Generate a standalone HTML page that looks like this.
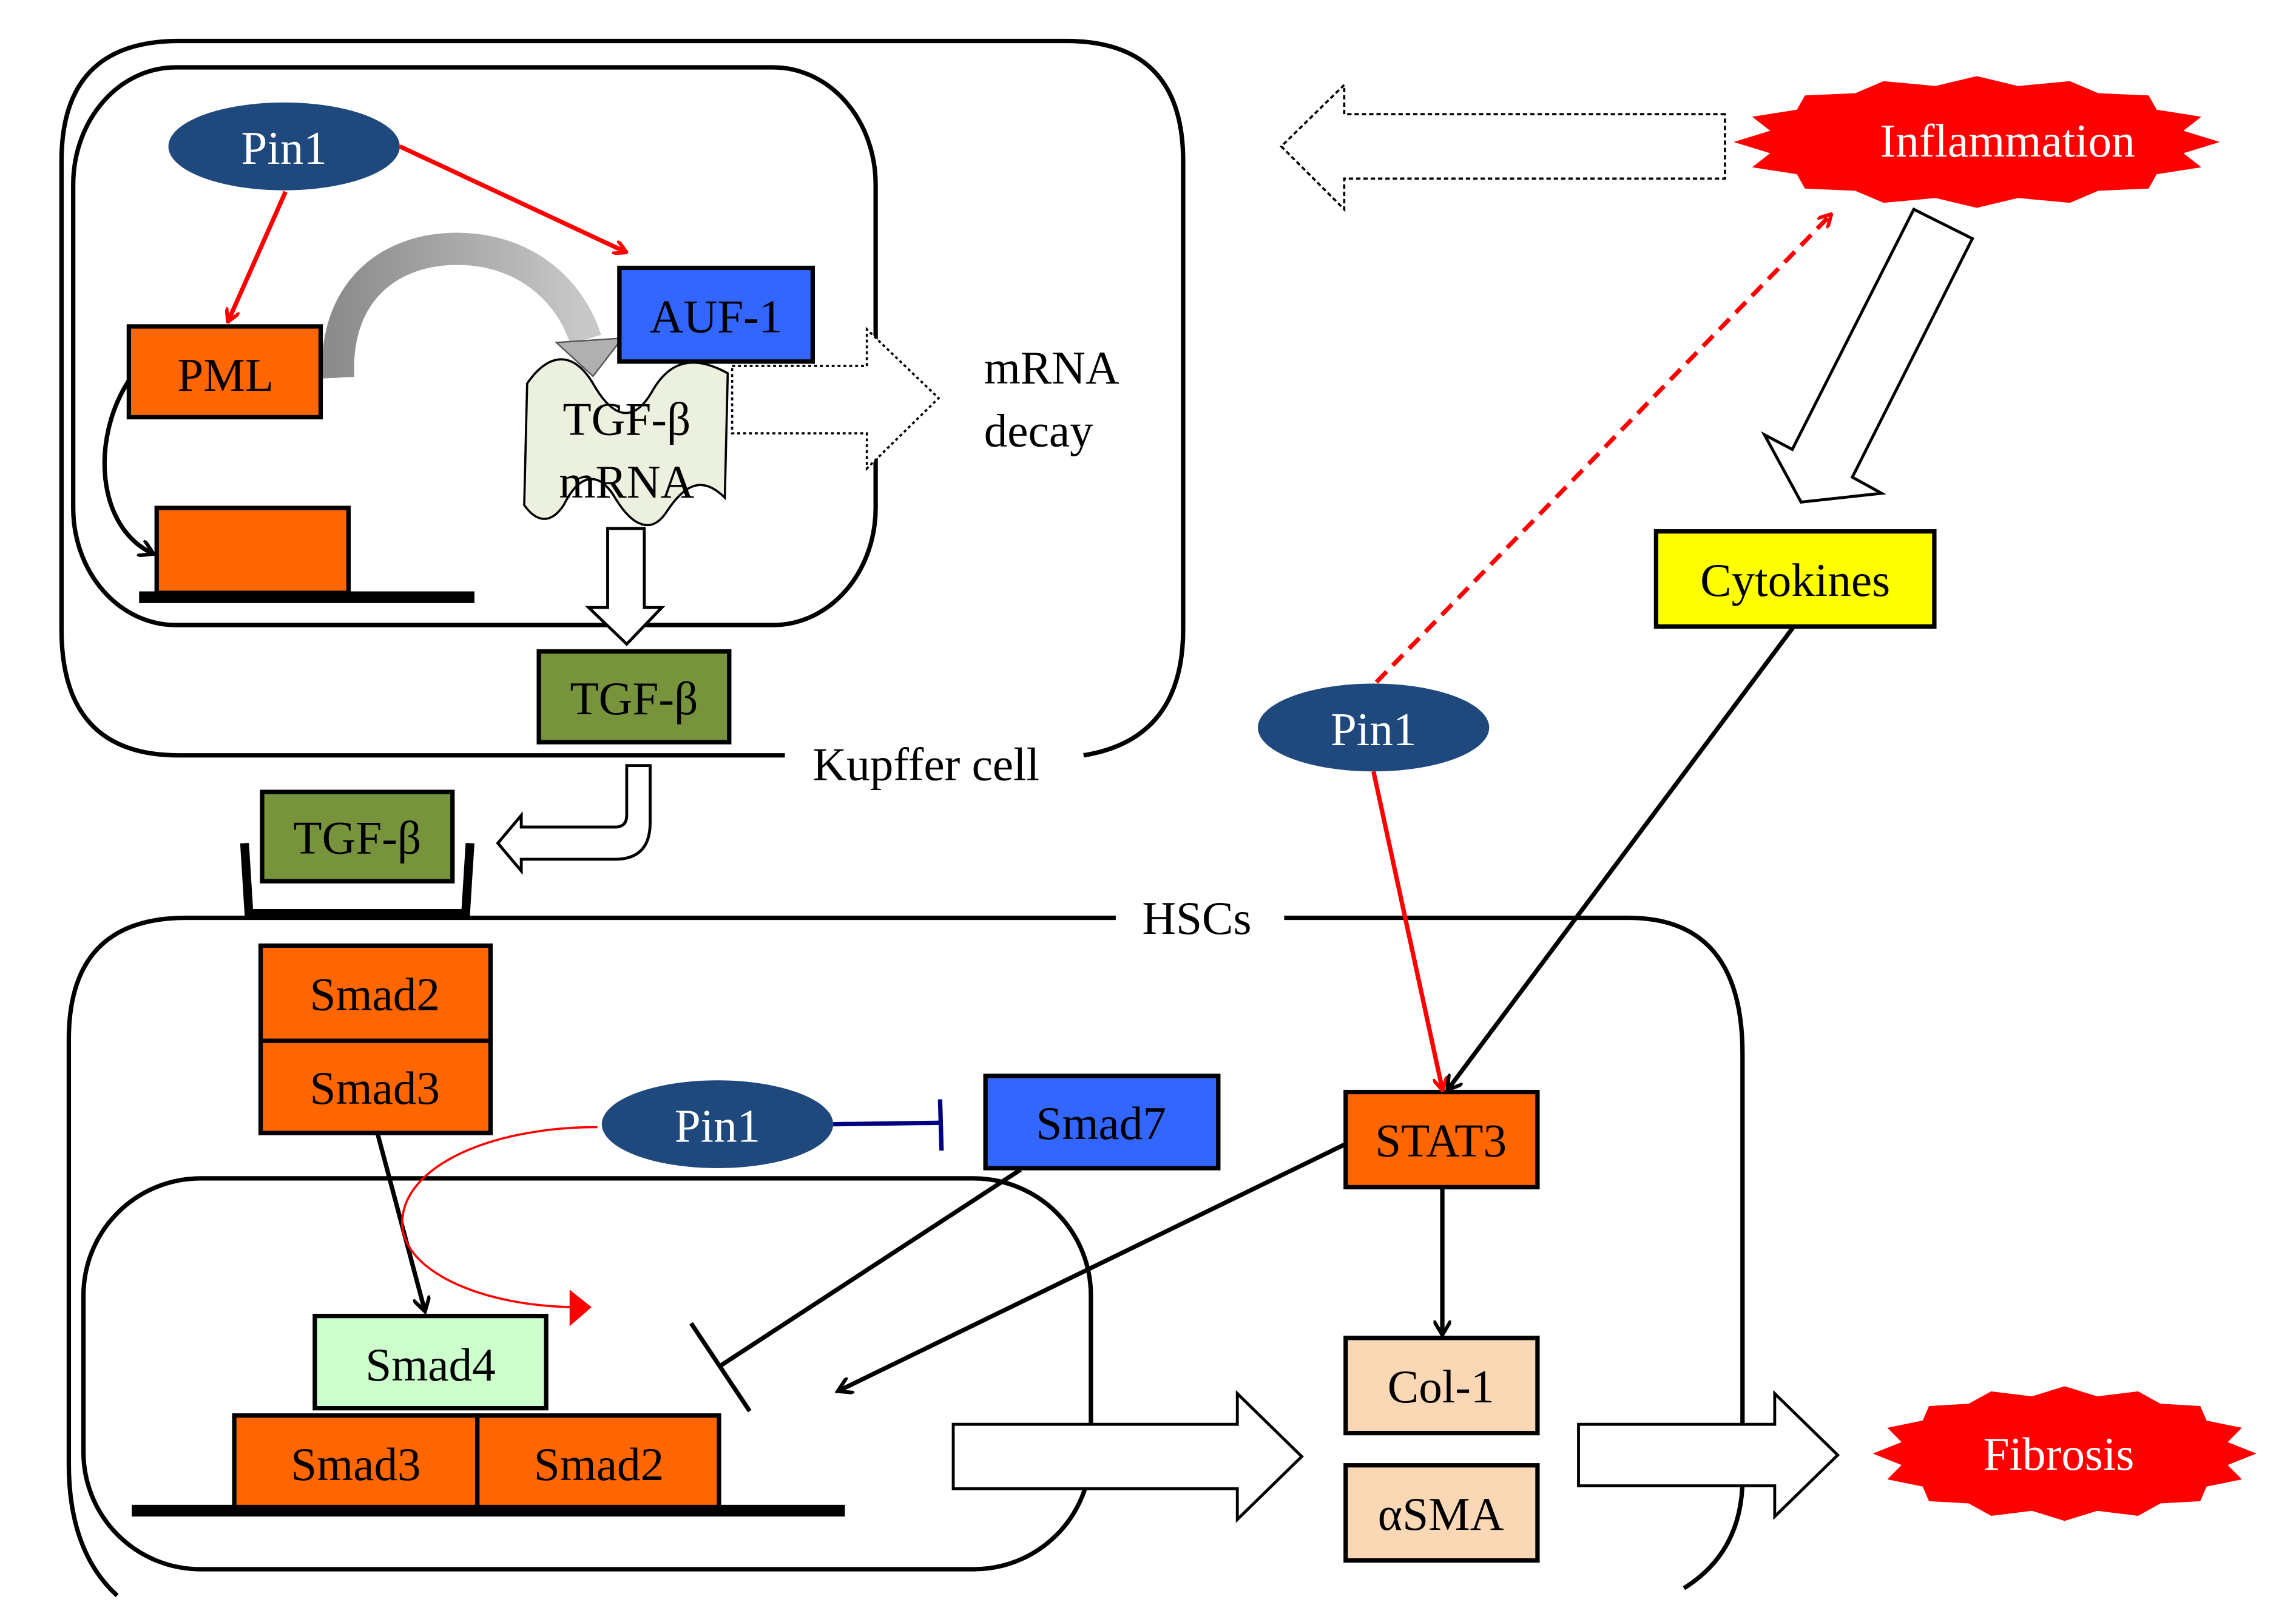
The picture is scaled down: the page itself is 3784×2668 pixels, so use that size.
<!DOCTYPE html>
<html><head><meta charset="utf-8"><style>
html,body{margin:0;padding:0;background:#fff;}
svg{display:block;}
</style></head><body>
<svg width="3784" height="2668" viewBox="0 0 1568 1106" preserveAspectRatio="none" xmlns="http://www.w3.org/2000/svg" font-family="'Liberation Serif', 'DejaVu Serif', serif">
<defs>
<marker id="ar" markerWidth="10" markerHeight="10" refX="8" refY="5" orient="auto" markerUnits="userSpaceOnUse"><path d="M0,0 L9,5 L0,10" fill="none" stroke="red" stroke-width="2.5"/></marker>
<marker id="ak" markerWidth="12" markerHeight="12" refX="9" refY="6" orient="auto" markerUnits="userSpaceOnUse"><path d="M0,0 L10,6 L0,12" fill="none" stroke="#000" stroke-width="2.5"/></marker>
<polygon id="star" points="1,0 0.85,0.17 0.924,0.383 0.74,0.49 0.707,0.707 0.5,0.74 0.383,0.924 0.17,0.85 0,1 -0.17,0.85 -0.383,0.924 -0.5,0.74 -0.707,0.707 -0.74,0.49 -0.924,0.383 -0.85,0.17 -1,0 -0.85,-0.17 -0.924,-0.383 -0.74,-0.49 -0.707,-0.707 -0.5,-0.74 -0.383,-0.924 -0.17,-0.85 0,-1 0.17,-0.85 0.383,-0.924 0.5,-0.74 0.707,-0.707 0.74,-0.49 0.924,-0.383 0.85,-0.17"/>
<linearGradient id="gg" x1="0" y1="0" x2="1" y2="0"><stop offset="0" stop-color="#8c8c8c"/><stop offset="1" stop-color="#c8c8c8"/></linearGradient>
</defs>

<path d="M536,516 L122,516 Q42,516 42,430 L42,110 Q42,28 122,28 L728,28 Q808,28 808,110 L808,430 Q808,505 740,516" fill="none" stroke="#000" stroke-width="3"/>
<text x="555" y="533" font-size="32">Kupffer cell</text>
<rect x="50" y="46" width="548" height="381" rx="70" ry="80" fill="none" stroke="#000" stroke-width="3"/>

<ellipse cx="194" cy="100" rx="79" ry="30" fill="#1f497d"/>
<text x="194" y="112" font-size="32" fill="#fff" text-anchor="middle">Pin1</text>
<line x1="195" y1="131" x2="156" y2="219" stroke="red" stroke-width="3" marker-end="url(#ar)"/>
<line x1="273" y1="100" x2="427" y2="172" stroke="red" stroke-width="3" marker-end="url(#ar)"/>

<path d="M231,258 C228,200 265,170 312,170 C360,170 390,200 400,232" fill="none" stroke="url(#gg)" stroke-width="22"/>
<polygon points="380,234 425,231 405,257" fill="#b0b0b0" stroke="#555" stroke-width="1"/>

<rect x="88" y="223" width="131" height="62" fill="#ff6600" stroke="#000" stroke-width="3"/>
<text x="154" y="267" font-size="32" text-anchor="middle">PML</text>

<path d="M88,260 C62,300 66,360 104,378" fill="none" stroke="#000" stroke-width="3" marker-end="url(#ak)"/>
<rect x="107" y="347" width="131" height="58" fill="#ff6600" stroke="#000" stroke-width="3"/>
<rect x="95" y="404" width="229" height="8" fill="#000"/>

<polygon points="500,250 592,250 592,225 641,272 592,320 592,296 500,296" fill="#fff" stroke="#000" stroke-width="1.5" stroke-dasharray="2,2"/>
<text x="672" y="262" font-size="32">mRNA</text>
<text x="672" y="305" font-size="32">decay</text>

<rect x="423" y="183" width="132" height="64" fill="#3366ff" stroke="#000" stroke-width="3"/>
<text x="489" y="227" font-size="32" text-anchor="middle">AUF-1</text>

<path d="M360,262 C375,240 392,240 405,262 C418,285 432,290 445,268 C455,250 470,240 497,255 L495,340 C480,325 468,330 455,350 C445,365 432,360 420,340 C408,320 395,325 385,345 C375,360 365,355 358,345 Z" fill="#ebf1de" stroke="#000" stroke-width="1.5"/>
<text x="428" y="297" font-size="32" text-anchor="middle">TGF-β</text>
<text x="428" y="340" font-size="32" text-anchor="middle">mRNA</text>

<polygon points="415,361 440,361 440,415 452,415 428,440 402,415 415,415" fill="#fff" stroke="#000" stroke-width="2"/>

<rect x="368" y="445" width="130" height="62" fill="#77933c" stroke="#000" stroke-width="3"/>
<text x="433" y="488" font-size="32" text-anchor="middle">TGF-β</text>

<path d="M428,523 L444,523 L444,562 Q444,587 420,587 L356,587 L356,595 L340,576 L356,557 L356,565 L420,565 Q428,565 428,557 Z" fill="#fff" stroke="#000" stroke-width="2"/>

<rect x="179" y="541" width="130" height="61" fill="#77933c" stroke="#000" stroke-width="3"/>
<text x="244" y="583" font-size="32" text-anchor="middle">TGF-β</text>
<path d="M167,576 L170,624 L318,624 L321,576" fill="none" stroke="#000" stroke-width="6"/>

<path d="M762,627 L127,627 Q47,627 47,710 L47,1000 Q47,1060 80,1090" fill="none" stroke="#000" stroke-width="3"/>
<path d="M877,627 L1112,627 Q1190,627 1190,720 L1190,1010 Q1190,1060 1150,1085" fill="none" stroke="#000" stroke-width="3"/>
<text x="780" y="638" font-size="32">HSCs</text>

<rect x="57" y="805" width="688" height="267" rx="80" ry="80" fill="none" stroke="#000" stroke-width="3"/>

<rect x="178" y="646" width="157" height="65" fill="#ff6600" stroke="#000" stroke-width="3"/>
<text x="256" y="690" font-size="32" text-anchor="middle">Smad2</text>
<rect x="178" y="711" width="157" height="63" fill="#ff6600" stroke="#000" stroke-width="3"/>
<text x="256" y="754" font-size="32" text-anchor="middle">Smad3</text>

<line x1="258" y1="775" x2="290" y2="895" stroke="#000" stroke-width="3" marker-end="url(#ak)"/>
<path d="M408,770 C330,770 270,800 275,840 C280,870 330,892 392,893" fill="none" stroke="red" stroke-width="1.5"/>
<polygon points="389,881 404,893 389,906" fill="red"/>

<ellipse cx="490" cy="768" rx="79" ry="30" fill="#1f497d"/>
<text x="490" y="780" font-size="32" fill="#fff" text-anchor="middle">Pin1</text>
<line x1="569" y1="768" x2="642" y2="767" stroke="#000080" stroke-width="3"/>
<line x1="642" y1="751" x2="643" y2="786" stroke="#000080" stroke-width="3"/>

<rect x="673" y="735" width="159" height="63" fill="#3366ff" stroke="#000" stroke-width="3"/>
<text x="752" y="778" font-size="32" text-anchor="middle">Smad7</text>

<line x1="697" y1="799" x2="492" y2="933" stroke="#000" stroke-width="3"/>
<line x1="472" y1="904" x2="512" y2="964" stroke="#000" stroke-width="3"/>
<line x1="918" y1="782" x2="573" y2="950" stroke="#000" stroke-width="3" marker-end="url(#ak)"/>

<rect x="215" y="899" width="158" height="63" fill="#ccffcc" stroke="#000" stroke-width="3"/>
<text x="294" y="943" font-size="32" text-anchor="middle">Smad4</text>
<rect x="160" y="967" width="166" height="63" fill="#ff6600" stroke="#000" stroke-width="3"/>
<text x="243" y="1011" font-size="32" text-anchor="middle">Smad3</text>
<rect x="326" y="967" width="165" height="63" fill="#ff6600" stroke="#000" stroke-width="3"/>
<text x="409" y="1011" font-size="32" text-anchor="middle">Smad2</text>
<rect x="90" y="1028" width="487" height="8" fill="#000"/>

<polygon points="651,973 845,973 845,952 889,995 845,1038 845,1017 651,1017" fill="#fff" stroke="#000" stroke-width="2"/>
<polygon points="1078,973 1212,973 1212,952 1255,994 1212,1036 1212,1015 1078,1015" fill="#fff" stroke="#000" stroke-width="2"/>

<rect x="919" y="746" width="131" height="65" fill="#ff6600" stroke="#000" stroke-width="3"/>
<text x="984" y="790" font-size="32" text-anchor="middle">STAT3</text>
<line x1="985" y1="811" x2="985" y2="911" stroke="#000" stroke-width="3" marker-end="url(#ak)"/>
<rect x="919" y="914" width="131" height="65" fill="#fad7b5" stroke="#000" stroke-width="3"/>
<text x="984" y="958" font-size="32" text-anchor="middle">Col-1</text>
<rect x="919" y="1001" width="131" height="65" fill="#fad7b5" stroke="#000" stroke-width="3"/>
<text x="984" y="1045" font-size="32" text-anchor="middle">αSMA</text>

<use href="#star" fill="red" transform="translate(1410,993) scale(131,46)"/>
<text x="1406" y="1004" font-size="32" fill="#fff" text-anchor="middle">Fibrosis</text>

<use href="#star" fill="red" transform="translate(1350,97) scale(166,45)"/>
<text x="1371" y="107" font-size="32" fill="#fff" text-anchor="middle">Inflammation</text>

<polygon points="1178,78 918,78 918,58 875,100 918,143 918,122 1178,122" fill="#fff" stroke="#000" stroke-width="1.5" stroke-dasharray="3,2"/>

<line x1="940" y1="466" x2="1250" y2="147" stroke="red" stroke-width="3" stroke-dasharray="10,6" marker-end="url(#ar)"/>

<polygon points="1307,143 1347,163 1265,326 1285,337 1230,343 1205,297 1224,307" fill="#fff" stroke="#000" stroke-width="2"/>

<rect x="1131" y="363" width="190" height="65" fill="#ffff00" stroke="#000" stroke-width="3"/>
<text x="1226" y="407" font-size="32" text-anchor="middle">Cytokines</text>

<ellipse cx="938" cy="497" rx="79" ry="30" fill="#1f497d"/>
<text x="938" y="509" font-size="32" fill="#fff" text-anchor="middle">Pin1</text>
<line x1="938" y1="527" x2="985" y2="744" stroke="red" stroke-width="3" marker-end="url(#ar)"/>
<line x1="1225" y1="428" x2="989" y2="744" stroke="#000" stroke-width="3" marker-end="url(#ak)"/>
</svg>
</body></html>
